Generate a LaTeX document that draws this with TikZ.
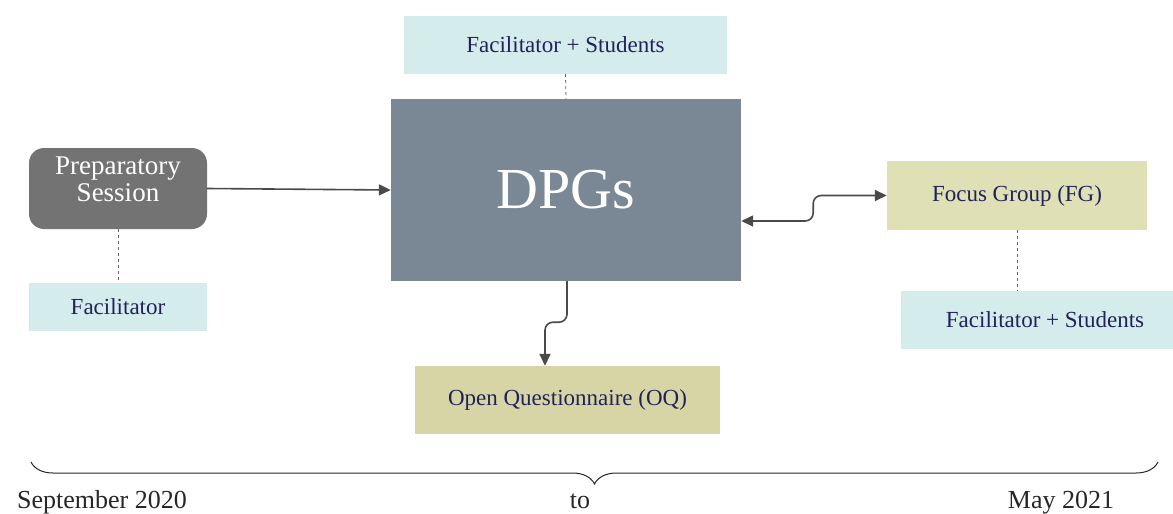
\documentclass[tikz,border=0pt]{standalone}
\usepackage{fontspec}
\setmainfont{Liberation Serif}
\usetikzlibrary{arrows.meta,decorations.pathreplacing}
\definecolor{lblue}{HTML}{D5ECEC}
\definecolor{dpgc}{HTML}{7A8794}
\definecolor{prepc}{HTML}{737373}
\definecolor{fgc}{HTML}{DFE0B5}
\definecolor{oqc}{HTML}{D7D5A5}
\definecolor{navy}{HTML}{22225A}
\definecolor{arr}{HTML}{4A4A4A}
\tikzset{
  box/.style={inner sep=0pt, text=navy, font=\fontsize{23}{26}\selectfont},
  bluebox/.style={box, fill=lblue},
  conn/.style={draw=arr, line width=1.6pt, -{Triangle[length=12pt,width=11pt]}},
  dconn/.style={draw=arr, line width=1.6pt, {Triangle[length=12pt,width=11pt]}-{Triangle[length=12pt,width=11pt]}, rounded corners=8pt},
  dashline/.style={draw=gray!80!black, dashed, line width=0.8pt},
  datelbl/.style={anchor=base, text=black!85, font=\fontsize{26}{28}\selectfont}
}
\begin{document}
\begin{tikzpicture}[x=1pt,y=-1pt]
\useasboundingbox (0,0) rectangle (1173,514);
% nodes
\node[bluebox, minimum width=323pt, minimum height=58pt] (top) at (565.5,45) {Facilitator + Students};
\node[fill=dpgc, inner sep=0pt, minimum width=350pt, minimum height=182pt, text=white, font=\fontsize{58}{60}\selectfont] (dpg) at (566,190) {DPGs};
\node[fill=prepc, rounded corners=15pt, inner sep=0pt, minimum width=178pt, minimum height=81pt] (prep) at (118,188.5) {};
\node[text=white, align=center, font=\fontsize{27}{27}\selectfont] (preptext) at (118,179) {Preparatory\\Session};
\node[bluebox, minimum width=178pt, minimum height=48pt] (fac1) at (118,307) {Facilitator};
\node[box, fill=fgc, minimum width=260pt, minimum height=69pt] (fg) at (1017,195.5) {Focus Group (FG)};
\node[bluebox, minimum width=272pt, minimum height=58pt] (fac2) at (1037,320) {\hspace*{16pt}Facilitator + Students};
\node[box, fill=oqc, minimum width=305pt, minimum height=68pt] (oq) at (567.5,400) {Open Questionnaire (OQ)};
% connectors
\draw[dashline] (top.south) -- (dpg.north);
\draw[dashline] (prep.south) -- (fac1.north);
\draw[dashline] (fg.south) -- (fg.south |- fac2.north);
\draw[conn] (prep.east) -- (dpg.west);
\draw[dconn] ([yshift=-31pt]dpg.east) -- ++(72,0) |- (fg.west);
\draw[conn, rounded corners=8pt] ([xshift=1pt]dpg.south) -- ++(0,41) -| ([xshift=-22.5pt]oq.north);
% timeline brace
\coordinate (bl) at (31,462);
\coordinate (br) at (1158,462);
\draw[black!85, line width=1pt, decorate, decoration={brace, mirror, amplitude=22pt}] (bl) -- (br);
\node[datelbl] (sep) at (102,508) {September 2020};
\node[datelbl] (to) at (580,508) {to};
\node[datelbl] (may) at (1061,508) {May 2021};
\end{tikzpicture}
\end{document}
